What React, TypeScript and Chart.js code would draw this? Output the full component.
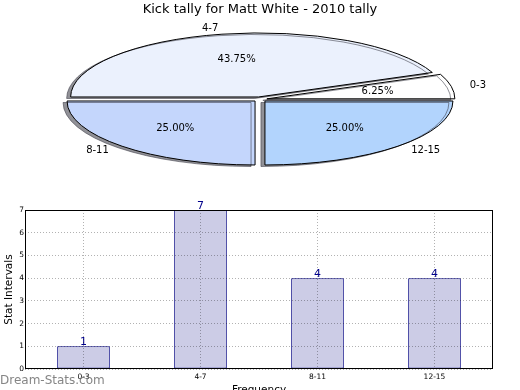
import React, { useEffect, useRef } from "react";
import { Chart, ArcElement, registerables } from "chart.js";

Chart.register(...registerables);

const FONT = "'DejaVu Sans', 'Bitstream Vera Sans', sans-serif";

// ---- data ----
const chartTitle = "Kick tally for Matt White - 2010 tally";
const categories = ["0-3", "4-7", "8-11", "12-15"];
const counts = [1, 7, 4, 4];
const sliceColors = ["#ffffff", "#ebf1fd", "#c4d6fc", "#b2d4fd"];
const yTickValues = [0, 1, 2, 3, 4, 5, 6, 7];
const xAxisTitle = "Frequency";
const yAxisTitle = "Stat Intervals";
const watermarkText = "Dream-Stats.com";

// ---- pie geometry / styling ----
const PIE_RADIUS = 188;
const PIE_SQUASH = 64 / 188;
const EXPLODE = 7;
const total = counts.reduce((a, b) => a + b, 0);
// matplotlib draws counter-clockwise from 3 o'clock; Chart.js draws clockwise
const pieOrder = [3, 2, 1, 0];

const ellipsePiePlugin = {
  id: "ellipsePie",
  beforeDatasetsDraw(chart: any) {
    const ctx = chart.ctx;
    const arcs = chart.getDatasetMeta(0).data;
    const first = arcs[0];
    if (!first) return;
    const cx = first.x;
    const cy = first.y;
    // explode each wedge along its bisector (library still draws the arc)
    arcs.forEach((arc: any) => {
      arc.draw = function (c: CanvasRenderingContext2D) {
        const mid = (this.startAngle + this.endAngle) / 2;
        c.save();
        c.translate(Math.cos(mid) * EXPLODE, Math.sin(mid) * EXPLODE);
        ArcElement.prototype.draw.call(this, c);
        c.restore();
      };
    });
    ctx.save();
    const base = ctx.getTransform();
    ctx.translate(cx, cy);
    ctx.scale(1, PIE_SQUASH);
    ctx.translate(-cx, -cy);
    ctx.shadowColor = "rgba(55,55,65,0.55)";
    ctx.shadowOffsetX = -4;
    ctx.shadowOffsetY = 1.5;
    ctx.shadowBlur = 0;
    const proto = Object.getPrototypeOf(ctx);
    ctx.stroke = function (...args: any[]) {
      const t = this.getTransform();
      this.setTransform(base);
      proto.stroke.apply(this, args);
      this.setTransform(t);
    };
  },
  afterDatasetsDraw(chart: any) {
    const ctx = chart.ctx;
    delete ctx.stroke;
    ctx.restore();
  },
  afterDraw(chart: any) {
    const ctx = chart.ctx;
    const meta = chart.getDatasetMeta(0);
    ctx.save();
    ctx.fillStyle = "#000";
    ctx.textBaseline = "middle";
    meta.data.forEach((arc: any, i: number) => {
      const cat = pieOrder[i];
      const { x, y, startAngle, endAngle, outerRadius } = arc.getProps(
        ["x", "y", "startAngle", "endAngle", "outerRadius"],
        true
      );
      const mid = (startAngle + endAngle) / 2;
      const at = (f: number) => ({
        px: x + Math.cos(mid) * (EXPLODE + f * outerRadius),
        py: y + Math.sin(mid) * (EXPLODE + f * outerRadius) * PIE_SQUASH,
      });
      const pct = at(0.6);
      ctx.font = `10px ${FONT}`;
      ctx.textAlign = "center";
      ctx.fillText(((counts[cat] / total) * 100).toFixed(2) + "%", pct.px, pct.py);
      const lab = at(1.1);
      ctx.textAlign = lab.px > x ? "left" : "right";
      ctx.fillText(categories[cat], lab.px, lab.py);
    });
    ctx.restore();
  },
};

const barExtrasPlugin = {
  id: "barExtras",
  afterDatasetsDraw(chart: any) {
    const ctx = chart.ctx;
    const meta = chart.getDatasetMeta(0);
    ctx.save();
    ctx.fillStyle = "#00008b";
    ctx.font = `11px ${FONT}`;
    ctx.textAlign = "center";
    ctx.textBaseline = "alphabetic";
    meta.data.forEach((bar: any, i: number) => {
      ctx.fillText(String(counts[i]), bar.x, bar.y - 1);
    });
    ctx.restore();
  },
  afterDraw(chart: any) {
    const { ctx, chartArea } = chart;
    ctx.save();
    ctx.strokeStyle = "#000";
    ctx.lineWidth = 1;
    ctx.strokeRect(
      Math.round(chartArea.left) + 0.5,
      Math.round(chartArea.top) + 0.5,
      Math.round(chartArea.right - chartArea.left) - 1,
      Math.round(chartArea.bottom - chartArea.top) - 1
    );
    ctx.restore();
  },
};

export default function App() {
  const pieRef = useRef<HTMLCanvasElement>(null);
  const barRef = useRef<HTMLCanvasElement>(null);

  useEffect(() => {
    Chart.defaults.font.family = FONT;
    Chart.defaults.color = "#000";

    const pie = new Chart(pieRef.current as HTMLCanvasElement, {
      type: "pie",
      data: {
        labels: pieOrder.map((i) => categories[i]),
        datasets: [
          {
            data: pieOrder.map((i) => counts[i]),
            backgroundColor: pieOrder.map((i) => sliceColors[i]),
            borderColor: "#000",
            borderWidth: 1,
            offset: 0,
            hoverOffset: 0,
            clip: false,
          } as any,
        ],
      },
      options: {
        animation: false,
        responsive: false,
        maintainAspectRatio: false,
        radius: PIE_RADIUS,
        rotation: 90,
        events: [],
        layout: { padding: 0 },
        plugins: {
          legend: { display: false },
          tooltip: { enabled: false },
          title: {
            display: true,
            text: chartTitle,
            color: "#000",
            font: { size: 13, weight: "normal", family: FONT },
            padding: { top: 2, bottom: 0 },
          },
        },
      } as any,
      plugins: [ellipsePiePlugin],
    });

    const gridColor = "rgba(0,0,0,0.3)";
    const bar = new Chart(barRef.current as HTMLCanvasElement, {
      type: "bar",
      data: {
        labels: categories,
        datasets: [
          {
            data: counts,
            backgroundColor: "#ccccE6",
            borderColor: "#000080",
            borderWidth: 1,
            borderSkipped: false,
            barPercentage: 0.45,
            categoryPercentage: 1,
          } as any,
        ],
      },
      options: {
        animation: false,
        responsive: false,
        maintainAspectRatio: false,
        events: [],
        layout: { padding: { top: 10, right: 27, left: 0, bottom: 0 } },
        plugins: {
          legend: { display: false },
          tooltip: { enabled: false },
        },
        scales: {
          x: {
            type: "category",
            offset: true,
            grid: { offset: false, color: gridColor, drawTicks: false, lineWidth: 1, z: 1 },
            border: { display: false, dash: [1, 2] },
            ticks: { font: { size: 7.5, family: FONT }, color: "#000", padding: 4, maxRotation: 0, autoSkip: false },
            title: {
              display: true,
              text: xAxisTitle,
              color: "#000",
              font: { size: 10.5, family: FONT },
              padding: { top: 0, bottom: 3 },
            },
            afterFit(scale: any) {
              scale.height = 31;
            },
          },
          y: {
            min: 0,
            max: 7,
            grid: { color: gridColor, drawTicks: false, lineWidth: 1, z: 1 },
            border: { display: false, dash: [1, 2] },
            ticks: { font: { size: 7.5, family: FONT }, color: "#000", padding: 1 },
            afterBuildTicks(scale: any) {
              scale.ticks = yTickValues.map((v) => ({ value: v }));
            },
            title: {
              display: true,
              text: yAxisTitle,
              color: "#000",
              font: { size: 10.5, family: FONT },
              padding: { top: 3, bottom: 0 },
            },
            afterFit(scale: any) {
              scale.width = 25;
            },
          },
        },
      } as any,
      plugins: [barExtrasPlugin],
    });

    return () => {
      pie.destroy();
      bar.destroy();
    };
  }, []);

  return (
    <div
      style={{
        position: "absolute",
        left: 0,
        top: 0,
        width: 520,
        height: 390,
        overflow: "hidden",
        background: "#fff",
      }}
    >
      <canvas
        ref={pieRef}
        width={520}
        height={181}
        style={{ position: "absolute", left: 0, top: 0, width: 520, height: 181 }}
      />
      <canvas
        ref={barRef}
        width={520}
        height={200}
        style={{ position: "absolute", left: 0, top: 200, width: 520, height: 200 }}
      />
      <div
        style={{
          position: "absolute",
          left: 0,
          top: 373,
          font: `12px ${FONT}`,
          lineHeight: "14px",
          color: "rgba(120,120,120,0.9)",
          whiteSpace: "nowrap",
        }}
      >
        {watermarkText}
      </div>
    </div>
  );
}
